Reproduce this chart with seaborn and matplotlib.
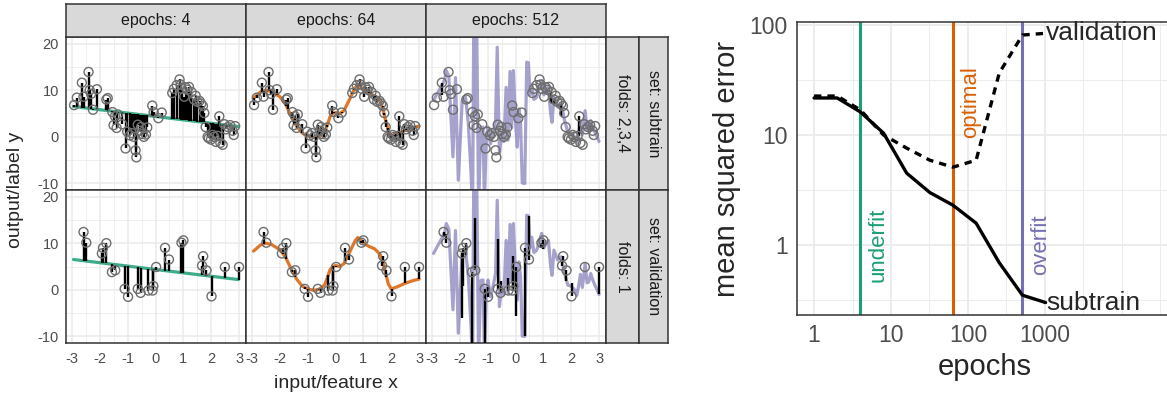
import numpy as np
import matplotlib
matplotlib.use("Agg")
import matplotlib.pyplot as plt
from matplotlib.ticker import NullFormatter
import seaborn as sns

# Configuration
OUTPUT_IMAGE = "out.png"
W, H = 1167, 396
DARK2 = {4: "#1B9E77", 64: "#D95F02", 512: "#7570B3"}

# subtrain data (folds 2,3,4)
sub_x = [-2.93, -2.83, -2.65, -2.59, -2.41, -2.37, -2.32, -2.25, -2.11,
         -1.77, -1.72, -1.55, -1.51, -1.46, -1.40, -1.36, -1.20,
         -1.08, -1.02, -0.92, -0.85, -0.78, -0.72, -0.69, -0.64, -0.56, -0.52, -0.48, -0.42, -0.35, -0.30,
         -0.12, -0.07, 0.10, 0.22,
         0.60, 0.66, 0.76, 0.86, 0.90, 0.94, 1.03, 1.08, 1.14, 1.20, 1.29, 1.38, 1.44, 1.50, 1.58, 1.64, 1.70, 1.75,
         1.80, 1.87, 1.91, 1.99, 2.05, 2.11, 2.17, 2.23, 2.29, 2.33, 2.41, 2.47, 2.53, 2.60, 2.68, 2.77, 2.81, 2.86]
sub_y = [6.8, 8.4, 11.6, 8.6, 13.9, 10.0, 9.2, 5.8, 10.2,
         8.0, 8.3, 5.3, 2.5, 4.4, 1.9, 4.8, 2.7,
         -2.5, 1.1, 0.3, 0.8, 0.0, -2.9, -4.4, 2.6, 1.3, 2.1, 0.6, 0.0, 0.5, 2.0,
         6.7, 5.3, 4.0, 5.2,
         9.4, 10.3, 11.1, 12.3, 11.2, 10.3, 8.6, 10.6, 10.1, 10.7, 9.6, 8.0, 8.8, 7.5, 7.7, 7.1, 6.6, 5.1,
         2.1, 0.0, -0.3, -0.6, 0.4, 0.0, -1.1, 0.2, 4.4, -1.3, -1.7, 2.7, 1.6, 2.1, 2.5, 1.3, 0.4, 2.3]
# residual still left after 512 epochs (mostly none)
sub_gap512 = [0, 0, -2.7, 0, 0, 0, 0, 0, 0,
              0, 0, 0, 0, 0, 0, 0, 0,
              0, 0, 0, 0, 0, 0, 0, 0, 0, 0, 0, 0, 0, 0,
              0, 0, 0, 0,
              0, 0, 0, 0, 0, 0, 0, 0, 0, 0, -2.3, -1.0, 0, 0, 0, -2.6, 0, 0,
              0, 0, 0, 0, 0, 0, 0, 0, -4.3, 0, 0, 0, 0, 0, 0, 0, 0, 0]

# validation data (fold 1)
val_x = [-2.59, -2.49, -1.93, -1.89, -1.77, -1.57, -1.45, -1.11, -0.99, -0.64, -0.54, -0.26, -0.11,
         -0.08, 0.02, 0.34, 0.48, 0.93, 1.00, 1.67, 1.71, 1.83, 2.01, 2.49, 3.00]
val_y = [12.4, 10.1, 7.8, 9.0, 10.0, 3.8, 4.2, 0.2, -1.5, 0.2, -0.65, -0.15, -0.15,
         0.8, 4.9, 9.0, 6.5, 10.1, 10.6, 5.2, 7.2, 4.15, -1.4, 4.9, 4.9]
val_pred512 = [11.5, 12.0, -6.0, 0.8, 7.5, -14.0, 15.5, -14.0, 0.7, 10.8, 1.9, 2.6, 7.3,
               3.5, -5.7, -10.0, 15.9, 9.0, 8.8, 6.0, 6.0, 1.8, 1.5, 4.9, -0.9]

# model predictions on a grid of x
line4_x = [-2.95, 2.98]
line4_y = [6.5, 2.2]

line64_x = [-2.95, -2.7, -2.5, -2.3, -2.0, -1.8, -1.6, -1.4, -1.2, -1.0, -0.8, -0.6, -0.4, -0.3,
            -0.2, -0.1, 0.0, 0.15, 0.3, 0.5, 0.7, 0.8, 0.9, 1.0, 1.2, 1.4, 1.6, 1.7, 1.8, 1.9,
            2.0, 2.2, 2.5, 2.8, 3.0]
line64_y = [8.3, 9.6, 10.0, 9.7, 8.6, 7.0, 4.5, 2.3, 0.8, 0.2, -0.1, 0.1, 1.0, 2.5,
            4.3, 5.0, 5.2, 5.0, 5.6, 8.0, 10.5, 11.2, 10.8, 10.0, 9.3, 8.8, 7.6, 6.0, 3.5, 1.2,
            0.2, 0.6, 1.4, 2.0, 2.3]

line512_x = [-2.95, -2.85, -2.7, -2.55, -2.49, -2.40, -2.25, -2.16, -2.06, -1.92, -1.80, -1.70,
             -1.60, -1.55, -1.50, -1.45, -1.40, -1.33, -1.25, -1.17, -1.12, -1.05, -0.99, -0.90,
             -0.80, -0.72, -0.66, -0.58, -0.50, -0.42, -0.34, -0.27, -0.20, -0.14, -0.08, 0.0,
             0.06, 0.12, 0.18, 0.24, 0.33, 0.40, 0.46, 0.52, 0.58, 0.66, 0.76, 0.86, 0.94, 1.02,
             1.10, 1.18, 1.26, 1.31, 1.38, 1.51, 1.64, 1.76, 1.88, 2.00, 2.12, 2.20, 2.27, 2.33,
             2.40, 2.50, 2.57, 2.63, 2.70, 2.75, 2.85, 2.93, 3.00]
line512_y = [7.8, 8.9, 10.5, 12.2, 14.2, 13.0, -4.3, 12.7, -9.3, 7.5, 8.5, 3.0,
             -8.0, -15.0, 26.0, 5.0, 26.0, -15.0, 2.0, 2.1, -14.0, 0.0, 2.1, -1.5,
             1.0, 3.5, 19.2, -3.6, 0.5, -1.0, 10.6, -0.7, 14.0, 2.0, 14.2, 3.0,
             -2.2, 6.0, 2.8, -9.9, -10.0, 16.0, 15.9, 9.0, 11.3, 8.0, 8.5, 10.5, 12.1, 9.0,
             10.0, 10.6, 5.0, 3.1, 8.5, 6.4, 7.1, 3.5, 1.0, 0.8, 0.0, -1.2, 1.0, 3.3,
             0.5, 5.6, 1.5, 1.7, 3.5, 2.5, 1.0, 0.0, -1.0]

# error curves
epochs = [1, 2, 4, 8, 16, 32, 64, 128, 256, 512, 1024]
subtrain_mse = [21.7, 21.7, 16.2, 10.4, 4.5, 3.0, 2.3, 1.58, 0.69, 0.35, 0.30]
validation_mse = [22.6, 22.6, 16.9, 10.0, 7.6, 5.9, 5.1, 5.9, 36.6, 81.0, 84.0]
fit_labels = ["underfit", "optimal", "overfit"]
fit_epochs = [4, 64, 512]
fit_label_y = [1.0, 20.0, 1.0]


def add_px(fig, x0, y0, x1, y1):
    return fig.add_axes([x0 / W, 1 - y1 / H, (x1 - x0) / W, (y1 - y0) / H])


def style_panel(ax, show_x, show_y):
    ax.set_xlim(-3.22, 3.25)
    ax.set_ylim(-11.4, 21.4)
    ax.set_xticks([-3, -2, -1, 0, 1, 2, 3])
    ax.set_xticks([-2.5, -1.5, -0.5, 0.5, 1.5, 2.5], minor=True)
    ax.set_yticks([-10, 0, 10, 20])
    ax.set_yticks([-5, 5, 15], minor=True)
    ax.grid(which="major", color="#EBEBEB", lw=1.1)
    ax.grid(which="minor", color="#EBEBEB", lw=0.55)
    ax.set_axisbelow(True)
    for s in ax.spines.values():
        s.set_color("#333333")
        s.set_linewidth(1.1)
    ax.tick_params(which="minor", length=0)
    ax.tick_params(axis="x", which="major", length=3.2 if show_x else 0, color="#333333",
                   labelbottom=show_x, labelsize=10.5, labelcolor="#4D4D4D", pad=3.5)
    ax.tick_params(axis="y", which="major", length=3.2 if show_y else 0, color="#333333",
                   labelleft=show_y, labelsize=10.5, labelcolor="#4D4D4D", pad=2)
    ax.set_xlabel("")
    ax.set_ylabel("")


def strip(fig, x0, y0, x1, y1, text, rotation=0):
    sax = add_px(fig, x0, y0, x1, y1)
    sax.set_facecolor("#D9D9D9")
    sax.set_xticks([])
    sax.set_yticks([])
    for s in sax.spines.values():
        s.set_color("#333333")
        s.set_linewidth(1.1)
    sax.text(0.5, 0.5, text, ha="center", va="center", rotation=rotation,
             transform=sax.transAxes, fontsize=11.5, color="#1A1A1A")


def main():
    sns.set_style("white")
    plt.rcParams["font.family"] = ["Liberation Sans", "DejaVu Sans"]
    plt.rcParams["axes.unicode_minus"] = False

    fig = plt.figure(figsize=(W / 100, H / 100), dpi=100)

    col_edges = [66, 246, 426, 606]
    row_edges = [37, 190, 343]
    curves = {4: (line4_x, line4_y), 64: (line64_x, line64_y), 512: (line512_x, line512_y)}
    sets = [
        (sub_x, sub_y, "folds: 2,3,4", "set: subtrain"),
        (val_x, val_y, "folds: 1", "set: validation"),
    ]

    for r, (px, py, fold_txt, set_txt) in enumerate(sets):
        px = np.array(px)
        py = np.array(py)
        for c, ep in enumerate(fit_epochs):
            ax = add_px(fig, col_edges[c], row_edges[r], col_edges[c + 1], row_edges[r + 1])
            cx, cy = curves[ep]
            sns.lineplot(x=cx, y=cy, ax=ax, color=DARK2[ep], lw=2.3,
                         alpha=0.65 if ep == 512 else 0.85,
                         sort=False, estimator=None, zorder=2)
            if ep == 512:
                ends = py + np.array(sub_gap512) if r == 0 else np.array(val_pred512)
            else:
                ends = np.interp(px, cx, cy)
            ax.vlines(px, py, ends, color="black", lw=1.7, zorder=3)
            sns.scatterplot(x=px, y=py, ax=ax, marker="o", s=42, color="#6E6E6E",
                            facecolor="none", edgecolor="#6E6E6E", linewidth=1.0, zorder=4)
            style_panel(ax, show_x=(r == 1), show_y=(c == 0))
        strip(fig, 606, row_edges[r], 639, row_edges[r + 1], fold_txt, rotation=-90)
        strip(fig, 639, row_edges[r], 668, row_edges[r + 1], set_txt, rotation=-90)

    for c, ep in enumerate(fit_epochs):
        strip(fig, col_edges[c], 4, col_edges[c + 1], 37, f"epochs: {ep}")

    fig.text(16 / W, 1 - 190 / H, "output/label y", rotation=90, ha="center", va="center",
             fontsize=14)
    fig.text(336 / W, 1 - 383 / H, "input/feature x", ha="center", va="center", fontsize=14)

    # right: error vs epochs
    ax = add_px(fig, 797, 22, 1172, 315)
    ax.set_xscale("log")
    ax.set_yscale("log")
    for ep in fit_epochs:
        ax.axvline(ep, color=DARK2[ep], lw=2.2, zorder=2)
    sns.lineplot(x=epochs, y=subtrain_mse, ax=ax, color="black", lw=2.4, zorder=3)
    sns.lineplot(x=epochs, y=validation_mse, ax=ax, color="black", lw=2.4,
                 linestyle=(0, (2.2, 1.8)), zorder=3)
    ax.text(1024 * 1.02, validation_mse[-1], "validation", ha="left", va="center", fontsize=19)
    ax.text(1024 * 1.02, subtrain_mse[-1], "subtrain", ha="left", va="center", fontsize=19)
    for lab, ep, yy in zip(fit_labels, fit_epochs, fit_label_y):
        ax.text(ep * 1.25, yy, lab, rotation=90, ha="left", va="center",
                color=DARK2[ep], fontsize=16)

    ax.set_xlim(10 ** -0.222, 10 ** 4.654)
    ax.set_ylim(10 ** -0.636, 10 ** 2.027)
    ax.set_xticks([1, 10, 100, 1000])
    ax.set_xticklabels(["1", "10", "100", "1000"])
    ax.set_xticks([10 ** 0.5, 10 ** 1.5, 10 ** 2.5, 10 ** 3.5, 10 ** 4, 10 ** 4.5], minor=True)
    ax.set_yticks([1, 10, 100])
    ax.set_yticklabels(["1", "10", "100"])
    ax.set_yticks([10 ** -0.5, 10 ** 0.5, 10 ** 1.5], minor=True)
    ax.xaxis.set_minor_formatter(NullFormatter())
    ax.yaxis.set_minor_formatter(NullFormatter())
    ax.grid(which="major", color="#EBEBEB", lw=1.3)
    ax.grid(which="minor", color="#EBEBEB", lw=0.65)
    ax.set_axisbelow(True)
    for s in ax.spines.values():
        s.set_color("#333333")
        s.set_linewidth(1.1)
    ax.tick_params(which="minor", length=0)
    ax.tick_params(which="major", length=3.8, color="#333333", labelsize=16.5,
                   labelcolor="#4D4D4D", pad=3)
    ax.set_xlabel("epochs", fontsize=21, labelpad=4)
    ax.set_ylabel("mean squared error", fontsize=21, labelpad=6)

    fig.savefig(OUTPUT_IMAGE, dpi=100)


if __name__ == "__main__":
    main()
